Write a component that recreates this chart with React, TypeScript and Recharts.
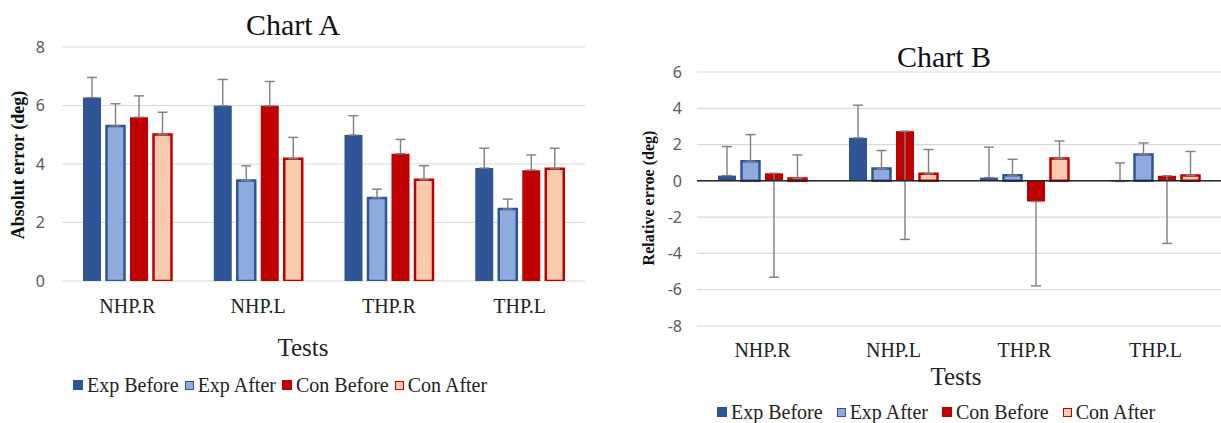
import { Bar, BarChart, CartesianGrid, ErrorBar, ReferenceLine, XAxis, YAxis } from "recharts";

const tests = ["NHP.R", "NHP.L", "THP.R", "THP.L"];

// Chart A – absolute error (deg), error bars go up
const absExpBefore = [6.27, 5.99, 4.99, 3.86];
const absExpBeforeErr = [0.69, 0.9, 0.66, 0.68];
const absExpAfter = [5.3, 3.44, 2.84, 2.46];
const absExpAfterErr = [0.76, 0.5, 0.3, 0.34];
const absConBefore = [5.6, 5.99, 4.35, 3.79];
const absConBeforeErr = [0.73, 0.83, 0.49, 0.52];
const absConAfter = [5.01, 4.18, 3.46, 3.84];
const absConAfterErr = [0.76, 0.73, 0.48, 0.7];
const absTicks = [0, 2, 4, 6, 8];

// Chart B – relative error (deg), Con Before error bars go down
const relExpBefore = [0.29, 2.37, 0.18, -0.04];
const relExpBeforeErr = [1.6, 1.8, 1.68, 1.03];
const relExpAfter = [1.08, 0.68, 0.31, 1.45];
const relExpAfterErr = [1.47, 0.99, 0.88, 0.64];
const relConBefore = [0.42, 2.74, -1.14, 0.28];
const relConBeforeErr = [5.73, 5.97, 4.65, 3.73];
const relConAfter = [0.13, 0.39, 1.23, 0.29];
const relConAfterErr = [1.3, 1.34, 0.97, 1.33];
const relTicks = [-8, -6, -4, -2, 0, 2, 4, 6];

const DARK_BLUE = "#2F5597";
const LIGHT_BLUE = "#8FAADC";
const RED = "#C00000";
const PEACH = "#F8CBAD";
const ERR = "#7F7F7F";
const SERIF = "'Liberation Serif', 'Times New Roman', serif";
const SANS = "'Noto Sans', 'Open Sans', sans-serif";

const series = [
  { key: "expBefore", name: "Exp Before", fill: DARK_BLUE, stroke: "none" },
  { key: "expAfter", name: "Exp After", fill: LIGHT_BLUE, stroke: DARK_BLUE },
  { key: "conBefore", name: "Con Before", fill: RED, stroke: "none" },
  { key: "conAfter", name: "Con After", fill: PEACH, stroke: RED },
];

const up = (e: number) => [0, e];
const down = (e: number) => [e, 0];

const absData = tests.map((name, i) => ({
  name,
  expBefore: absExpBefore[i],
  expBeforeErr: up(absExpBeforeErr[i]),
  expAfter: absExpAfter[i],
  expAfterErr: up(absExpAfterErr[i]),
  conBefore: absConBefore[i],
  conBeforeErr: up(absConBeforeErr[i]),
  conAfter: absConAfter[i],
  conAfterErr: up(absConAfterErr[i]),
}));

const relData = tests.map((name, i) => ({
  name,
  expBefore: relExpBefore[i],
  expBeforeErr: up(relExpBeforeErr[i]),
  expAfter: relExpAfter[i],
  expAfterErr: up(relExpAfterErr[i]),
  conBefore: relConBefore[i],
  conBeforeErr: down(relConBeforeErr[i]),
  conAfter: relConAfter[i],
  conAfterErr: up(relConAfterErr[i]),
}));

function CategoryTick({ x, y, payload }: any) {
  return (
    <text
      x={x}
      y={y}
      dy="0.71em"
      textAnchor="middle"
      style={{ fontFamily: SERIF, fontSize: 20, fill: "#222" }}
    >
      {payload.value}
    </text>
  );
}

function ValueTick({ x, y, payload }: any) {
  return (
    <text
      x={x}
      y={y}
      dy="0.36em"
      textAnchor="end"
      style={{ fontFamily: SANS, fontSize: 16, fill: "#595959" }}
    >
      {payload.value}
    </text>
  );
}

function Panel({
  data,
  ticks,
  width,
  left,
  top,
  bottom,
  right,
  yWidth,
  yTickMargin,
  xTickMargin,
  zeroLine,
}: {
  data: Record<string, unknown>[];
  ticks: number[];
  width: number;
  left: number;
  top: number;
  bottom: number;
  right: number;
  yWidth: number;
  yTickMargin: number;
  xTickMargin: number;
  zeroLine?: boolean;
}) {
  return (
    <div style={{ position: "absolute", left, top: 0 }}>
      <BarChart
        width={width}
        height={423}
        data={data}
        margin={{ top, right, left: 0, bottom }}
        barSize={18}
        barGap={5.5}
      >
        <CartesianGrid vertical={false} stroke="#D9D9D9" strokeWidth={1.2} />
        <XAxis
          dataKey="name"
          height={30}
          axisLine={false}
          tickLine={false}
          tickSize={0}
          tickMargin={xTickMargin}
          tick={<CategoryTick />}
        />
        <YAxis
          width={yWidth}
          domain={[ticks[0], ticks[ticks.length - 1]]}
          ticks={ticks}
          allowDataOverflow
          axisLine={false}
          tickLine={false}
          tickSize={0}
          tickMargin={yTickMargin}
          tick={<ValueTick />}
        />
        {series.map((s) => (
          <Bar
            key={s.key}
            dataKey={s.key}
            name={s.name}
            fill={s.fill}
            stroke={s.stroke}
            strokeWidth={s.stroke === "none" ? 0 : 2.5}
            isAnimationActive={false}
          >
            <ErrorBar
              dataKey={`${s.key}Err`}
              width={5}
              stroke={ERR}
              strokeWidth={1.4}
              direction="y"
            />
          </Bar>
        ))}
        {zeroLine && <ReferenceLine y={0} stroke="#262626" strokeWidth={1.5} />}
      </BarChart>
    </div>
  );
}

function Legend({ left, top, gap }: { left: number; top: number; gap: number }) {
  return (
    <div
      style={{
        position: "absolute",
        left,
        top,
        display: "flex",
        alignItems: "center",
        gap,
        whiteSpace: "nowrap",
        lineHeight: "24px",
      }}
    >
      {series.map((s) => (
        <div key={s.key} style={{ display: "flex", alignItems: "center", gap: 4 }}>
          <span
            style={{
              display: "inline-block",
              width: s.stroke === "none" ? 10 : 7,
              height: s.stroke === "none" ? 10 : 7,
              background: s.fill,
              border: s.stroke === "none" ? "none" : `1.5px solid ${s.stroke}`,
            }}
          />
          <span style={{ fontFamily: SERIF, fontSize: 20, color: "#222" }}>{s.name}</span>
        </div>
      ))}
    </div>
  );
}

const titleStyle = { fontFamily: SERIF, fill: "#111" };

export default function App() {
  return (
    <div style={{ position: "relative", width: 1221, height: 423, background: "#fff", overflow: "hidden" }}>
      <style>{"body{margin:0}"}</style>
      <Panel
        data={absData}
        ticks={absTicks}
        width={600}
        left={0}
        top={47}
        bottom={112}
        right={15}
        yWidth={62}
        yTickMargin={17}
        xTickMargin={18}
      />
      <Panel
        data={relData}
        ticks={relTicks}
        width={621}
        left={600}
        top={72}
        bottom={67}
        right={0}
        yWidth={97}
        yTickMargin={15}
        xTickMargin={17}
        zeroLine
      />
      <svg
        width={1221}
        height={423}
        style={{ position: "absolute", left: 0, top: 0, pointerEvents: "none" }}
      >
        <text x={293} y={35} textAnchor="middle" style={{ ...titleStyle, fontSize: 30 }}>
          Chart A
        </text>
        <text x={944} y={67} textAnchor="middle" style={{ ...titleStyle, fontSize: 30 }}>
          Chart B
        </text>
        <text
          transform="translate(18,165) rotate(-90)"
          textAnchor="middle"
          dominantBaseline="central"
          style={{ ...titleStyle, fontSize: 18, fontWeight: "bold" }}
        >
          Absolut error (deg)
        </text>
        <text
          transform="translate(648,198) rotate(-90)"
          textAnchor="middle"
          dominantBaseline="central"
          style={{ ...titleStyle, fontSize: 16, fontWeight: "bold" }}
        >
          Relative erroe (deg)
        </text>
        <text x={303} y={356} textAnchor="middle" style={{ ...titleStyle, fontSize: 25, fill: "#222" }}>
          Tests
        </text>
        <text x={956} y={385} textAnchor="middle" style={{ ...titleStyle, fontSize: 25, fill: "#222" }}>
          Tests
        </text>
      </svg>
      <Legend left={73} top={373} gap={6} />
      <Legend left={717} top={400} gap={14} />
    </div>
  );
}
